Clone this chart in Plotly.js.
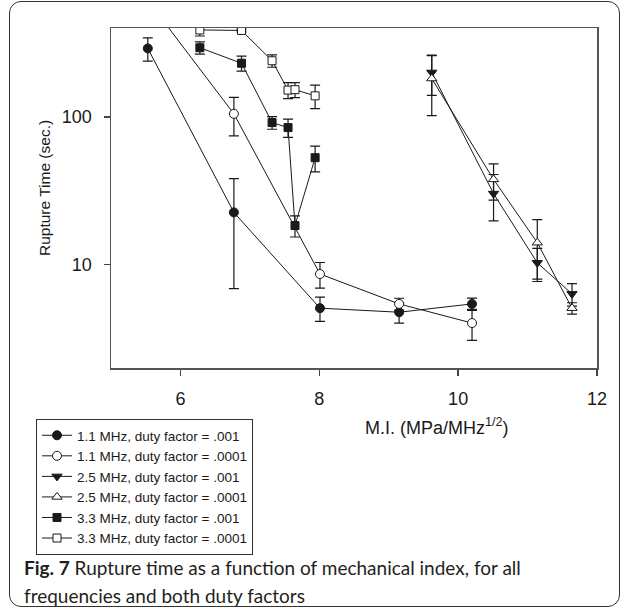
<!DOCTYPE html>
<html><head><meta charset="utf-8">
<script src="https://cdn.plot.ly/plotly-3.0.1.min.js"></script>
<style>
html,body{margin:0;padding:0;background:#fff;}
#wrap{position:relative;width:627px;height:613px;}
#chart{position:absolute;left:0;top:0;width:627px;height:613px;}
#frame{position:absolute;left:9px;top:1px;width:611px;height:606px;border:1.5px solid #333;border-radius:12px;pointer-events:none;box-sizing:border-box;}
</style></head><body>
<div id="wrap"><div id="chart"></div><div id="frame"></div></div>
<script>
// ---- data ----
const seriesNames = [
  '1.1 MHz, duty factor = .001',
  '1.1 MHz, duty factor = .0001',
  '2.5 MHz, duty factor = .001',
  '2.5 MHz, duty factor = .0001',
  '3.3 MHz, duty factor = .001',
  '3.3 MHz, duty factor = .0001'
];
const mi_1_1 = [5.53, 6.77, 8.01, 9.15, 10.20];
const rt_1_1_001 = [291, 22.6, 5.08, 4.77, 5.43];
const err_1_1_001 = [52, 15.7, 0.95, 0.75, 0.52];
const rt_1_1_0001 = [615, 105, 8.65, 5.43, 4.03];
const err_1_1_0001 = [0, 30.5, 1.7, 0.5, 0.95];

const mi_2_5 = [9.62, 10.51, 11.14, 11.64];
const rt_2_5_001 = [200, 30.3, 10.3, 6.35];
const err_2_5_001 = [60, 10.5, 2.6, 1.1];
const rt_2_5_0001 = [182, 37.8, 14.1, 5.08];
const err_2_5_0001 = [80, 10.4, 6.1, 0.45];

const mi_3_3 = [6.28, 6.88, 7.32, 7.55, 7.65, 7.94];
const rt_3_3_001 = [294, 231, 91.6, 84.7, 18.4, 53];
const err_3_3_001 = [28, 27, 9, 12, 3, 10.5];
const rt_3_3_0001 = [388, 385, 240, 152, 153, 139];
const err_3_3_0001 = [35, 8, 23, 19, 18, 25];

const xTicks = [6, 8, 10, 12];
const yTicks = [10, 100];
const yTickText = ['10', '100'];

const xTitle = 'M.I. (MPa/MHz<sup>1/2</sup>)';
const yTitle = 'Rupture Time (sec.)';
const captionBold = 'Fig. 7';
const captionLine1 = ' Rupture time as a function of mechanical index, for all';
const captionLine2 = 'frequencies and both duty factors';

// ---- styling ----
const ink = '#1a1a1a';
function mk(name, x, y, err, symbol, filled, size) {
  return {
    type: 'scatter', mode: 'lines+markers', name: name, x: x, y: y,
    line: {color: ink, width: 1},
    marker: {symbol: symbol, size: size, color: filled ? ink : '#ffffff', line: {color: ink, width: 1}},
    error_y: {type: 'data', array: err, visible: true, color: ink, thickness: 1.2, width: 5}
  };
}
const data = [
  mk(seriesNames[0], mi_1_1, rt_1_1_001, err_1_1_001, 'circle', true, 9),
  mk(seriesNames[1], mi_1_1, rt_1_1_0001, err_1_1_0001, 'circle', false, 9),
  mk(seriesNames[2], mi_2_5, rt_2_5_001, err_2_5_001, 'triangle-down', true, 9),
  mk(seriesNames[3], mi_2_5, rt_2_5_0001, err_2_5_0001, 'triangle-up', false, 9),
  mk(seriesNames[4], mi_3_3, rt_3_3_001, err_3_3_001, 'square', true, 8),
  mk(seriesNames[5], mi_3_3, rt_3_3_0001, err_3_3_0001, 'square', false, 8)
];

const plotL = 111, plotR = 597, plotT = 28, plotB = 368;
const W = 627, H = 613;
const pw = plotR - plotL, ph = plotB - plotT;
function px2x(p) { return (p - plotL) / pw; }
function py2y(p) { return (plotB - p) / ph; }

const axisFont = 'Liberation Sans, Arial, sans-serif';
const capFont = 'Lato, Open Sans, sans-serif';

const layout = {
  width: W, height: H,
  margin: {l: plotL, r: W - plotR, t: plotT, b: H - plotB, pad: 0},
  paper_bgcolor: '#ffffff', plot_bgcolor: '#ffffff',
  font: {family: axisFont, color: ink},
  showlegend: true,
  legend: {
    x: px2x(36), y: py2y(419), xanchor: 'left', yanchor: 'top',
    bordercolor: '#333', borderwidth: 1, bgcolor: '#ffffff',
    font: {size: 13.5, color: ink}, tracegroupgap: 0
  },
  xaxis: {
    range: [5, 12], tickvals: xTicks, ticks: 'outside', ticklen: 6, tickwidth: 1.5, tickcolor: '#444',
    showline: true, linecolor: '#555', linewidth: 1.5, mirror: true, showgrid: false, zeroline: false,
    tickfont: {size: 18}, ticklabelstandoff: 8
  },
  yaxis: {
    type: 'log', range: [Math.log10(2), Math.log10(400)], tickvals: yTicks, ticktext: yTickText,
    ticks: 'outside', ticklen: 6, tickwidth: 1.5, tickcolor: '#444',
    showline: true, linecolor: '#555', linewidth: 1.5, mirror: true, showgrid: false, zeroline: false,
    tickfont: {size: 18}, ticklabelstandoff: 8
  },
  annotations: [
    {xref: 'paper', yref: 'paper', x: px2x(437), y: py2y(426), xanchor: 'center', yanchor: 'middle',
     text: xTitle, showarrow: false, font: {family: axisFont, size: 18, color: ink}},
    {xref: 'paper', yref: 'paper', x: px2x(44), y: py2y(188), xanchor: 'center', yanchor: 'middle',
     text: yTitle, textangle: -90, showarrow: false, font: {family: axisFont, size: 15.5, color: ink}},
    {xref: 'paper', yref: 'paper', x: px2x(22), y: py2y(567), xanchor: 'left', yanchor: 'middle',
     text: '<b>' + captionBold + '</b>' + captionLine1, showarrow: false,
     font: {family: capFont, size: 19, color: '#231f20'}},
    {xref: 'paper', yref: 'paper', x: px2x(22), y: py2y(595), xanchor: 'left', yanchor: 'middle',
     text: captionLine2, showarrow: false,
     font: {family: capFont, size: 19, color: '#231f20'}}
  ]
};

Plotly.newPlot('chart', data, layout, {displayModeBar: false, staticPlot: true});
</script>
</body></html>
